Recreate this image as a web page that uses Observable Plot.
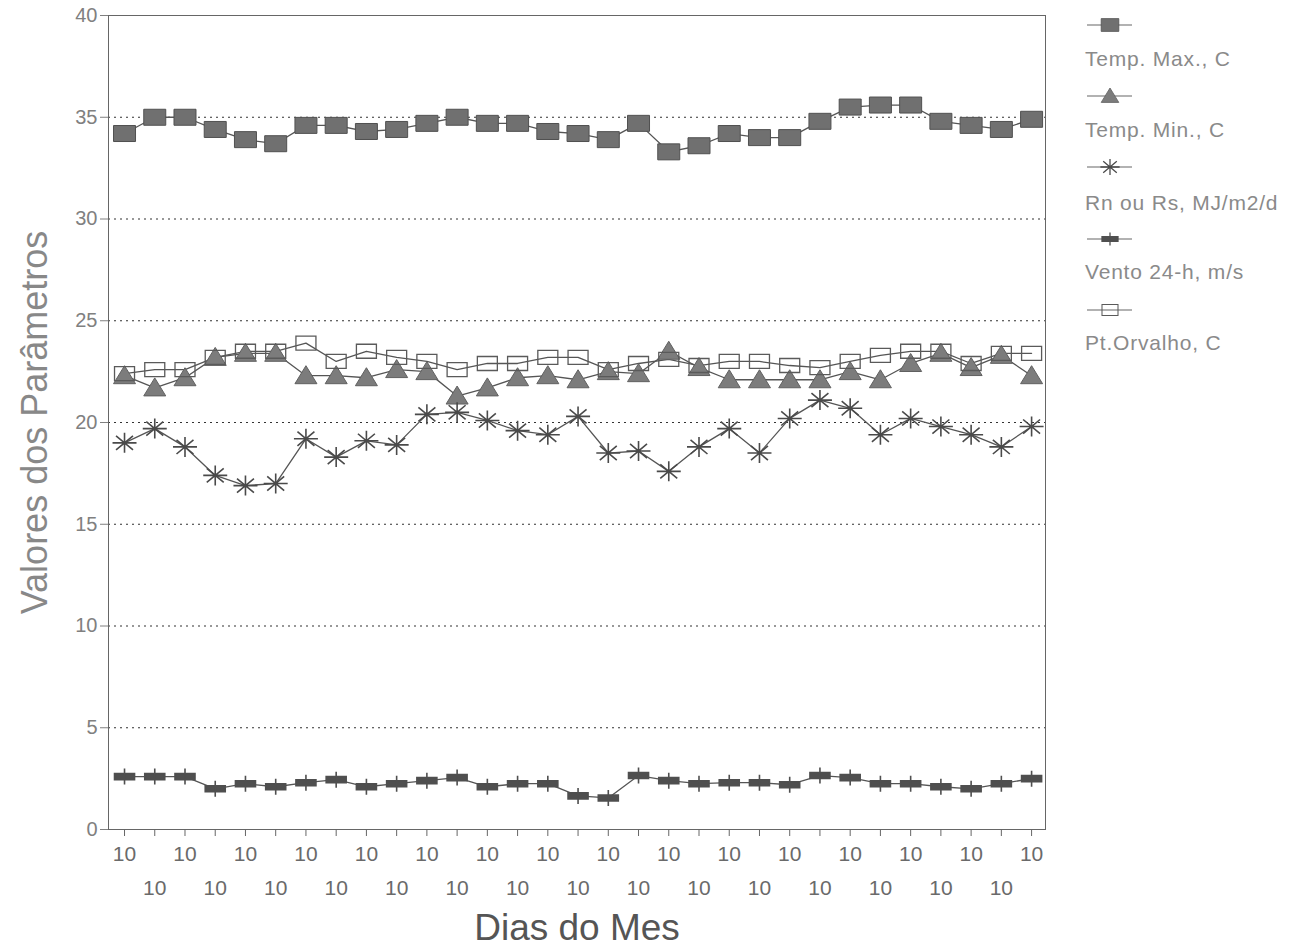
<!DOCTYPE html>
<html><head><meta charset="utf-8">
<script src="https://cdn.jsdelivr.net/npm/d3@7"></script>
<script src="https://cdn.jsdelivr.net/npm/@observablehq/plot@0.6"></script>
<style>
body{margin:0;background:#fff;font-family:"Liberation Sans",Arial,sans-serif;}
#wrap{position:relative;width:1304px;height:949px;overflow:hidden;}
#legend{position:absolute;left:1075px;top:0;}
</style></head><body>
<div id="wrap"><div id="chart"></div><svg id="legend" width="229" height="370"></svg></div>
<script>
// ---- data ----
const days = d3.range(1, 32);
const tickLabels = Array.from({length: 31}, () => "10");
const yTicks = [0, 5, 10, 15, 20, 25, 30, 35, 40];
const gridValues = [5, 10, 15, 20, 25, 30, 35];
const seriesNames = ["Temp. Max., C", "Temp. Min., C", "Rn ou Rs, MJ/m2/d", "Vento 24-h, m/s", "Pt.Orvalho, C"];
const tempMax = [34.2,35.0,35.0,34.4,33.9,33.7,34.6,34.6,34.3,34.4,34.7,35.0,34.7,34.7,34.3,34.2,33.9,34.7,33.3,33.6,34.2,34.0,34.0,34.8,35.5,35.6,35.6,34.8,34.6,34.4,34.9];
const tempMin = [22.3,21.7,22.2,23.2,23.4,23.4,22.3,22.3,22.2,22.6,22.5,21.3,21.7,22.2,22.3,22.1,22.5,22.4,23.5,22.7,22.1,22.1,22.1,22.1,22.5,22.1,22.9,23.4,22.7,23.3,22.3];
const rnRs = [19.0,19.7,18.8,17.4,16.9,17.0,19.2,18.3,19.1,18.9,20.4,20.5,20.1,19.6,19.4,20.3,18.5,18.6,17.6,18.8,19.7,18.5,20.2,21.1,20.7,19.4,20.2,19.8,19.4,18.8,19.8];
const vento = [2.6,2.6,2.6,2.0,2.25,2.1,2.3,2.45,2.1,2.25,2.4,2.55,2.1,2.25,2.25,1.65,1.55,2.65,2.4,2.25,2.3,2.3,2.2,2.65,2.55,2.25,2.25,2.1,2.0,2.25,2.5];
const ptOrvalho = [22.4,22.6,22.6,23.2,23.5,23.5,23.9,23.0,23.5,23.2,23.0,22.6,22.9,22.9,23.2,23.2,22.6,22.9,23.1,22.8,23.0,23.0,22.8,22.7,23.0,23.3,23.5,23.5,22.9,23.4,23.4];
const seriesValues = [tempMax, tempMin, rnRs, vento, ptOrvalho];

// ---- custom symbols ----
const symSquare = {draw(c){ c.rect(-11, -8, 22, 16); }};
const symTri = {draw(c){ c.moveTo(0, -10); c.lineTo(11, 8); c.lineTo(-11, 8); c.closePath(); }};
const symStar = {draw(c){
  for (const a of [0, 45, 90, 135]) {
    const dx = 12 * Math.cos(a * Math.PI / 180), dy = 10 * Math.sin(a * Math.PI / 180);
    c.moveTo(-dx, -dy); c.lineTo(dx, dy);
  }
}};
const symWind = {draw(c){ c.rect(-10, -3, 20, 6); c.moveTo(0, -8); c.lineTo(0, 8); }};
const symOpen = {draw(c){ c.rect(-10, -7, 20, 14); }};

const styles = [
  {symbol: symSquare, fill: "#707070", stroke: "#505050", strokeWidth: 1},
  {symbol: symTri, fill: "#7c7c7c", stroke: "#606060", strokeWidth: 1},
  {symbol: symStar, fill: "none", stroke: "#4a4a4a", strokeWidth: 1.6},
  {symbol: symWind, fill: "#4f4f4f", stroke: "#4f4f4f", strokeWidth: 1.6},
  {symbol: symOpen, fill: "none", stroke: "#5a5a5a", strokeWidth: 1.3}
];

const tables = seriesValues.map(vals => days.map((d, i) => ({day: d, value: vals[i]})));

const oddDays = days.filter(d => d % 2 === 1);
const evenDays = days.filter(d => d % 2 === 0);

const marks = [
  Plot.ruleY(gridValues, {stroke: "#333", strokeDasharray: "2,4", strokeWidth: 1.2}),
  Plot.frame({stroke: "#666", strokeWidth: 1}),
  Plot.axisY({ticks: yTicks, tickSize: 8, tickPadding: 3, fontSize: 20, label: null, color: "#808080"}),
  Plot.axisX({ticks: days, tickSize: 7, tickFormat: () => "", label: null, color: "#666"}),
  Plot.text(oddDays, {x: d => d, frameAnchor: "bottom", dy: 31, text: d => tickLabels[d - 1], fontSize: 21, fill: "#6a6a6a"}),
  Plot.text(evenDays, {x: d => d, frameAnchor: "bottom", dy: 65, text: d => tickLabels[d - 1], fontSize: 21, fill: "#6a6a6a"}),
  Plot.text(["Valores dos Parâmetros"], {frameAnchor: "left", textAnchor: "middle", dx: -73, rotate: -90, text: d => d, fontSize: 36, fill: "#888"}),
  Plot.text(["Dias do Mes"], {frameAnchor: "bottom", textAnchor: "middle", dy: 110, text: d => d, fontSize: 37, fill: "#555"})
];
tables.forEach((t) => {
  marks.push(Plot.line(t, {x: "day", y: "value", stroke: "#555", strokeWidth: 1.3}));
});
tables.forEach((t, k) => {
  const s = styles[k];
  marks.push(Plot.dot(t, {x: "day", y: "value", r: 6, symbol: () => s.symbol, fill: s.fill, stroke: s.stroke, strokeWidth: s.strokeWidth}));
});

const chart = Plot.plot({
  width: 1304,
  height: 949,
  marginLeft: 108,
  marginRight: 259,
  marginTop: 15,
  marginBottom: 120,
  style: {fontFamily: "'Liberation Sans', Arial, sans-serif", background: "#fff"},
  x: {domain: [0.47, 31.46]},
  y: {domain: [0, 40]},
  symbol: {type: "identity"},
  marks
});
document.getElementById("chart").append(chart);

// ---- legend ----
const lg = d3.select("#legend");
const markerY = [25, 96, 167, 239, 310];
const textY = [60, 131, 204, 273, 344];
seriesNames.forEach((name, k) => {
  const s = styles[k];
  const g = lg.append("g").attr("transform", `translate(35,${markerY[k]})`);
  g.append("line").attr("x1", -23).attr("x2", 22).attr("stroke", "#666").attr("stroke-width", 1.2);
  g.append("path").attr("d", d3.symbol().type(s.symbol)()).attr("transform", "scale(0.8)")
    .attr("fill", s.fill).attr("stroke", s.stroke).attr("stroke-width", s.strokeWidth);
  lg.append("text").attr("x", 10).attr("y", textY[k]).attr("dominant-baseline", "middle")
    .attr("font-size", 21).attr("letter-spacing", 0.8).attr("fill", "#8a8a8a")
    .attr("font-family", "'Liberation Sans', Arial, sans-serif").text(name);
});
</script>
</body></html>
